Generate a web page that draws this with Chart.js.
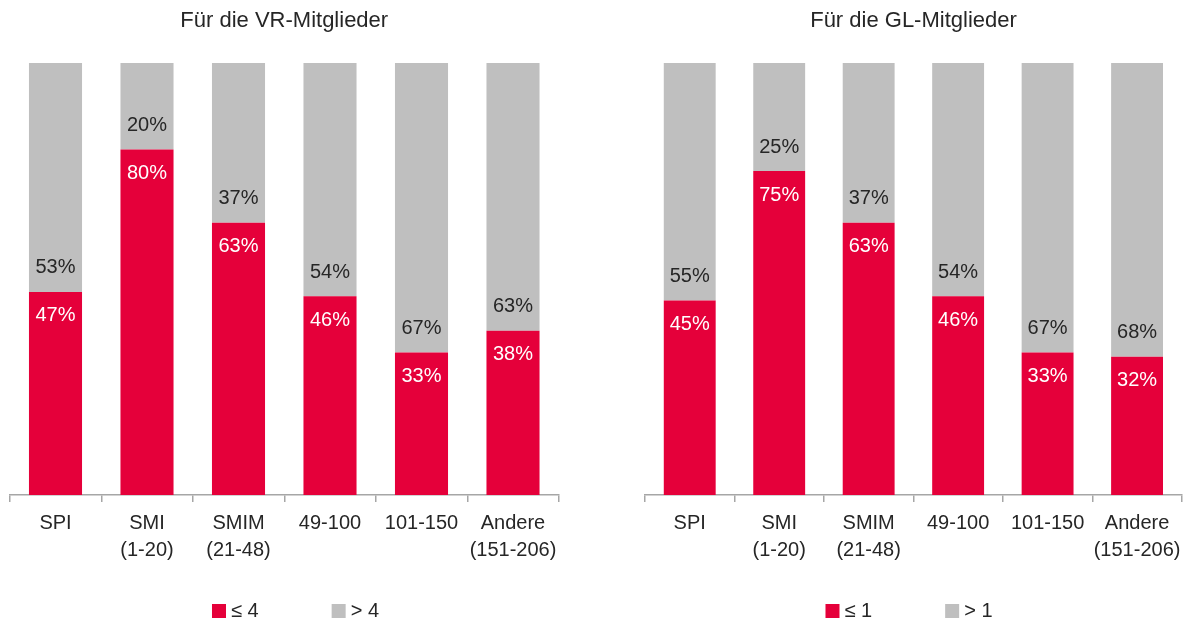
<!DOCTYPE html>
<html lang="de">
<head>
<meta charset="utf-8">
<title>VR / GL Mitglieder</title>
<script src="https://cdn.jsdelivr.net/npm/chart.js@4.4.1/dist/chart.umd.min.js"></script>
<style>
    body { margin: 0; background: #fff; }
    #wrap { position: relative; width: 1189px; height: 625px; }
    #vrChart { position: absolute; left: 0; top: 0; }
    #glChart { position: absolute; left: 629px; top: 0; }
</style>
</head>
<body>
<div id="wrap">
    <canvas id="vrChart" width="591" height="625"></canvas>
    <canvas id="glChart" width="560" height="625"></canvas>
</div>
<script>
// Kategorien (Index-Gruppen)
const kategorien = [['SPI'], ['SMI', '(1-20)'], ['SMIM', '(21-48)'], ['49-100'], ['101-150'], ['Andere', '(151-206)']];

// VR-Mitglieder
const vrTitel = 'Für die VR-Mitglieder';
const vrLabels = ['≤ 4', '> 4'];
const vrKlein = [47, 80, 63, 46, 33, 38];
const vrGross = [53, 20, 37, 54, 67, 63];

// GL-Mitglieder
const glTitel = 'Für die GL-Mitglieder';
const glLabels = ['≤ 1', '> 1'];
const glKlein = [45, 75, 63, 46, 33, 32];
const glGross = [55, 25, 37, 54, 67, 68];

const ROT = '#E5003A';
const GRAU = '#BFBFBF';
const SCHRIFT = '"Liberation Sans", Arial, sans-serif';

// Prozentwerte in die Balken schreiben
const wertePlugin = {
    id: 'werte',
    afterDatasetsDraw(chart) {
        const ctx = chart.ctx;
        ctx.save();
        ctx.font = '20px ' + SCHRIFT;
        ctx.textAlign = 'center';
        ctx.textBaseline = 'middle';
        chart.data.datasets.forEach((ds, i) => {
            const meta = chart.getDatasetMeta(i);
            meta.data.forEach((bar, j) => {
                const txt = ds.data[j] + '%';
                if (i === 0) {
                    ctx.fillStyle = '#ffffff';
                    ctx.fillText(txt, bar.x, bar.y + 24);
                } else {
                    ctx.fillStyle = '#262626';
                    ctx.fillText(txt, bar.x, bar.base - 24);
                }
            });
        });
        ctx.restore();
    }
};

// eigene Legende: Kästchen direkt am Text, grosser Abstand zwischen den Einträgen
const legendePlugin = {
    id: 'legende',
    afterDraw(chart) {
        const ctx = chart.ctx;
        const box = 14, luecke = 5, abstand = 73, y = 611;
        ctx.save();
        ctx.font = '20px ' + SCHRIFT;
        ctx.textBaseline = 'middle';
        const ds = chart.data.datasets;
        const breiten = ds.map(d => ctx.measureText(d.label).width);
        let gesamt = 0;
        breiten.forEach((b, i) => { gesamt += box + luecke + b + (i < breiten.length - 1 ? abstand : 0); });
        let x = chart.width / 2 - gesamt / 2;
        ds.forEach((d, i) => {
            ctx.fillStyle = d.backgroundColor;
            ctx.fillRect(x, y - box / 2, box, box);
            ctx.fillStyle = '#262626';
            ctx.fillText(d.label, x + box + luecke, y);
            x += box + luecke + breiten[i] + abstand;
        });
        ctx.restore();
    }
};

function zeichne(id, titel, labels, klein, gross, pad) {
    const ctx = document.getElementById(id).getContext('2d');
    return new Chart(ctx, {
        type: 'bar',
        data: {
            labels: kategorien,
            datasets: [{
                label: labels[0],
                data: klein,
                backgroundColor: ROT,
                borderWidth: 0,
                categoryPercentage: 0.58,
                barPercentage: 1
            }, {
                label: labels[1],
                data: gross,
                backgroundColor: GRAU,
                borderWidth: 0,
                categoryPercentage: 0.58,
                barPercentage: 1
            }]
        },
        options: {
            responsive: false,
            animation: false,
            devicePixelRatio: 1,
            layout: {
                padding: { left: pad.left, right: pad.right, top: 0, bottom: 63 }
            },
            scales: {
                x: {
                    stacked: true,
                    grid: {
                        offset: true,
                        drawOnChartArea: false,
                        drawTicks: true,
                        tickLength: 7,
                        color: '#A6A6A6',
                        lineWidth: 1.5
                    },
                    border: { color: '#A6A6A6', width: 1.5 },
                    ticks: {
                        color: '#262626',
                        padding: 8,
                        maxRotation: 0,
                        autoSkip: false,
                        font: { family: SCHRIFT, size: 20, lineHeight: 1.35 }
                    },
                    afterFit: function (scale) {
                        scale.height = 67;
                    }
                },
                y: {
                    stacked: true,
                    display: false,
                    min: 0,
                    max: 100
                }
            },
            plugins: {
                title: {
                    display: true,
                    text: titel,
                    color: '#262626',
                    font: { family: SCHRIFT, size: 22, weight: 'normal', lineHeight: 1.2 },
                    padding: { top: 8, bottom: 28.6 }
                },
                legend: { display: false },
                tooltip: { enabled: false }
            }
        },
        plugins: [wertePlugin, legendePlugin]
    });
}

zeichne('vrChart', vrTitel, vrLabels, vrKlein, vrGross, { left: 9.75, right: 32.25 });
zeichne('glChart', glTitel, glLabels, glKlein, glGross, { left: 16, right: 7 });
</script>
</body>
</html>
